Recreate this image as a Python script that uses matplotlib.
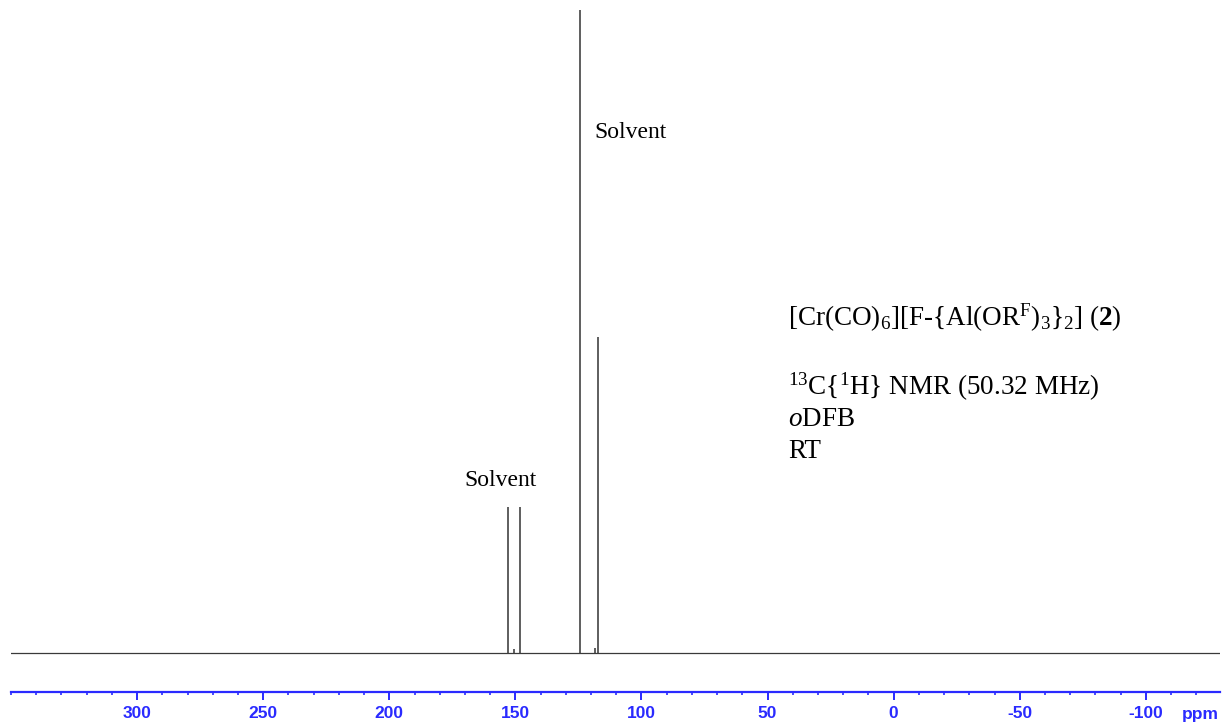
import matplotlib
matplotlib.use('Agg')
import matplotlib.pyplot as plt
from matplotlib.ticker import MultipleLocator

# peak positions (ppm) and relative intensities
peak_ppm = [153.0, 150.6, 148.2, 124.2, 118.5, 117.1]
peak_int = [0.227, 0.006, 0.227, 1.000, 0.008, 0.492]

ppm_lim = [350.0, -129.4]
major_ticks = [300, 250, 200, 150, 100, 50, 0, -50, -100]

blue = '#2a2aff'

plt.rcParams['axes.unicode_minus'] = False
plt.rcParams['mathtext.fontset'] = 'custom'
plt.rcParams['mathtext.rm'] = 'Liberation Serif'
plt.rcParams['mathtext.it'] = 'Liberation Serif:italic'
plt.rcParams['mathtext.bf'] = 'Liberation Serif:bold'

fig = plt.figure(figsize=(12.23, 7.26), dpi=100)
ax = fig.add_axes([11 / 1223, 34 / 726, 1209 / 1223, 687 / 726])

# spectrum: flat baseline plus the resonances
ax.axhline(0, color='#3a3a3a', lw=0.9)
ax.vlines(peak_ppm, 0, peak_int, color='#333333', lw=1.1)

ax.set_xlim(ppm_lim)
ax.set_ylim(-0.0607, 1.0078)

for s in ['left', 'right', 'top']:
    ax.spines[s].set_visible(False)
ax.spines['bottom'].set_color(blue)
ax.spines['bottom'].set_linewidth(1.6)
ax.set_yticks([])
ax.set_xticks(major_ticks)
ax.xaxis.set_minor_locator(MultipleLocator(10))
ax.tick_params(axis='x', which='major', direction='out', length=6, width=1.4,
               color=blue, labelcolor=blue, pad=4, labelsize=12.5)
ax.tick_params(axis='x', which='minor', direction='out', length=2.5, width=1.2,
               color=blue)
for lab in ax.get_xticklabels():
    lab.set_fontweight('bold')
    lab.set_fontfamily('Liberation Sans')

fig.text(1200 / 1223, 1 - 714 / 726, 'ppm', color=blue, fontsize=12.5,
         fontweight='bold', family='Liberation Sans', ha='center', va='center')

serif = 'Liberation Serif'
fig.text(631 / 1223, 1 - 132 / 726, 'Solvent', family=serif, fontsize=17,
         ha='center', va='center')
fig.text(501 / 1223, 1 - 481 / 726, 'Solvent', family=serif, fontsize=17,
         ha='center', va='center')

fig.text(788 / 1223, 1 - 318 / 726,
         r'[Cr(CO)$_6$][F-{Al(OR$^\mathrm{F}$)$_3$}$_2$] ($\mathbf{2}$)',
         family=serif, fontsize=19.5, ha='left', va='center')
fig.text(788 / 1223, 1 - 387 / 726, r'$^{13}$C{$^1$H} NMR (50.32 MHz)',
         family=serif, fontsize=19.5, ha='left', va='center')
fig.text(788 / 1223, 1 - 420 / 726, r'$\mathit{o}$DFB',
         family=serif, fontsize=19.5, ha='left', va='center')
fig.text(788 / 1223, 1 - 452 / 726, 'RT',
         family=serif, fontsize=19.5, ha='left', va='center')

fig.savefig('out.png', dpi=100)
